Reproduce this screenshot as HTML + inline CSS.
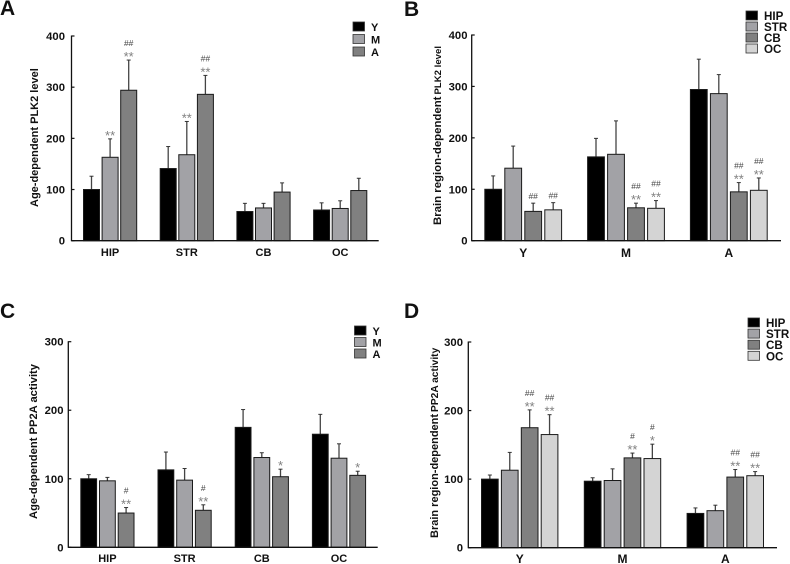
<!DOCTYPE html>
<html lang="en">
<head>
<meta charset="utf-8">
<title>PLK2 level and PP2A activity</title>
<style>
html,body{margin:0;padding:0;background:#fff;}
#figure{display:block;width:790px;height:564px;filter:blur(0.3px);}
text{font-family:"Liberation Sans",sans-serif;font-weight:bold;fill:#111;}
</style>
</head>
<body>
<svg id="figure" xmlns="http://www.w3.org/2000/svg" width="790" height="564" viewBox="0 0 790 564"></svg>
<script>
// Panel A: age-dependent PLK2, by brain region
const aCategories = ['HIP', 'STR', 'CB', 'OC'];
const aSeriesNames = ['Y', 'M', 'A'];
const aTicks = [0, 100, 200, 300, 400];
const aY = [100, 141, 57, 60];
const aM = [163, 168, 64, 63];
const aA = [294, 286, 95, 98];
const aYErr = [26, 43, 16, 14];
const aMErr = [36, 65, 9, 15];
const aAErr = [59, 37, 18, 24];
const aYStars = ['', '', '', ''];
const aMStars = ['**', '**', '', ''];
const aAStars = ['**', '**', '', ''];
const aYHash = ['', '', '', ''];
const aMHash = ['', '', '', ''];
const aAHash = ['##', '##', '', ''];

// Panel B: brain-region-dependent PLK2, by age
const bCategories = ['Y', 'M', 'A'];
const bSeriesNames = ['HIP', 'STR', 'CB', 'OC'];
const bTicks = [0, 100, 200, 300, 400];
const bHIP = [100, 163, 294];
const bSTR = [141, 168, 286];
const bCB = [57, 64, 95];
const bOC = [60, 63, 98];
const bHIPErr = [26, 36, 59];
const bSTRErr = [43, 65, 37];
const bCBErr = [16, 9, 18];
const bOCErr = [14, 15, 24];
const bHIPStars = ['', '', ''];
const bSTRStars = ['', '', ''];
const bCBStars = ['', '**', '**'];
const bOCStars = ['', '**', '**'];
const bHIPHash = ['', '', ''];
const bSTRHash = ['', '', ''];
const bCBHash = ['##', '##', '##'];
const bOCHash = ['##', '##', '##'];

// Panel C: age-dependent PP2A, by brain region
const cCategories = ['HIP', 'STR', 'CB', 'OC'];
const cSeriesNames = ['Y', 'M', 'A'];
const cTicks = [0, 100, 200, 300];
const cY = [100, 113, 175, 165];
const cM = [97, 98, 131, 130];
const cA = [50, 54, 103, 105];
const cYErr = [6, 26, 26, 29];
const cMErr = [5, 17, 7, 21];
const cAErr = [8, 8, 11, 6];
const cYStars = ['', '', '', ''];
const cMStars = ['', '', '', ''];
const cAStars = ['**', '**', '*', '*'];
const cYHash = ['', '', '', ''];
const cMHash = ['', '', '', ''];
const cAHash = ['#', '#', '', ''];

// Panel D: brain-region-dependent PP2A, by age
const dCategories = ['Y', 'M', 'A'];
const dSeriesNames = ['HIP', 'STR', 'CB', 'OC'];
const dTicks = [0, 100, 200, 300];
const dHIP = [100, 97, 50];
const dSTR = [113, 98, 54];
const dCB = [175, 131, 103];
const dOC = [165, 130, 105];
const dHIPErr = [6, 5, 8];
const dSTRErr = [26, 17, 8];
const dCBErr = [26, 7, 11];
const dOCErr = [29, 21, 6];
const dHIPStars = ['', '', ''];
const dSTRStars = ['', '', ''];
const dCBStars = ['**', '**', '**'];
const dOCStars = ['**', '*', '**'];
const dHIPHash = ['', '', ''];
const dSTRHash = ['', '', ''];
const dCBHash = ['##', '#', '##'];
const dOCHash = ['##', '#', '##'];

const svg = document.getElementById('figure');
const NS = 'http://www.w3.org/2000/svg';

function make(parent, tag, attrs, content) {
  const el = document.createElementNS(NS, tag);
  for (const k in attrs) el.setAttribute(k, attrs[k]);
  if (content !== undefined) el.textContent = content;
  parent.appendChild(el);
  return el;
}

function slug(s) {
  return String(s).toLowerCase();
}

function drawPanel(p) {
  const g = make(svg, 'g', {});
  
  

  const letter = make(g, 'text', {x: p.letterX, y: p.letterY, 'font-size': 21}, p.id.toUpperCase());
  
  

  const yMax = p.ticks[p.ticks.length - 1];
  const yScale = v => p.y0 - (v / yMax) * (p.y0 - p.yTop);
  const xScale = (c, s) => p.firstBar + c * p.groupStep + s * p.barStep;

  p.categories.forEach((cat, c) => {
    p.series.forEach((name, s) => {
      const value = p.values[s][c];
      const top = yScale(value);
      const errTop = yScale(value + p.errors[s][c]);
      const x = xScale(c, s);
      const mid = x + p.barWidth / 2;

      const stem = make(g, 'line', {x1: mid, x2: mid, y1: top, y2: errTop, stroke: '#444', 'stroke-width': 1.3});
      
      
      const cap = make(g, 'line', {x1: mid - 2, x2: mid + 2, y1: errTop, y2: errTop, stroke: '#333', 'stroke-width': 1});
      
      

      const bar = make(g, 'rect', {x: x, y: top, width: p.barWidth, height: p.y0 - top, fill: p.colors[s], stroke: '#1a1a1a', 'stroke-width': 1});
      
      

      const star = p.stars[s][c];
      const hash = p.hashes[s][c];
      if (star) {
        const st = make(g, 'text', {x: mid, y: errTop + 1, 'text-anchor': 'middle', 'font-size': 13, style: 'font-weight:normal;fill:#808080'}, star);
        
        
      }
      if (hash) {
        const hy = star ? errTop - 14 : errTop - 4;
        const ht = make(g, 'text', {x: mid, y: hy, 'text-anchor': 'middle', 'font-size': 8.5, style: 'font-weight:normal;fill:#444'}, hash);
        
        
      }
    });

    const groupMid = xScale(c, 0) + ((p.series.length - 1) * p.barStep + p.barWidth) / 2;
    const label = make(g, 'text', {x: groupMid, y: p.catY, 'text-anchor': 'middle', 'font-size': p.catSize}, cat);
    
    
  });

  const yAxis = make(g, 'line', {x1: p.x0, x2: p.x0, y1: p.yTop - 0.5, y2: p.y0 + 0.5, stroke: '#111', 'stroke-width': 1.3});
  
  
  const xAxis = make(g, 'line', {x1: p.x0, x2: p.xEnd, y1: p.y0, y2: p.y0, stroke: '#111', 'stroke-width': 1.3});
  
  

  p.ticks.forEach(t => {
    const ty = yScale(t);
    const tick = make(g, 'line', {x1: p.x0, x2: p.x0 + 3, y1: ty, y2: ty, stroke: '#111', 'stroke-width': 1.2});
    
    
    const tl = make(g, 'text', {x: p.tickLabelX, y: ty + 4, 'text-anchor': 'end', 'font-size': 11.3}, t);
    
    
  });

  const title = make(g, 'text', {transform: 'translate(' + p.titleX + ',' + p.titleY + ') rotate(-90)', 'text-anchor': 'start', 'font-size': p.titleSize});
  
  
  make(title, 'tspan', {}, p.title);
  if (p.titleSmall) make(title, 'tspan', {'font-size': p.titleSmallSize, dx: 2}, p.titleSmall);

  p.series.forEach((name, s) => {
    const ly = p.legendY + s * p.legendStep;
    const sw = make(g, 'rect', {x: p.legendX, y: ly, width: 11.5, height: 9, fill: p.colors[s], stroke: '#333', 'stroke-width': 0.8});
    
    
    const lt = make(g, 'text', {x: p.legendX + 18, y: ly + 9, 'font-size': p.legendSize}, name);
    
    
  });
}

const threeColors = ['#000000', '#a2a2a6', '#808080'];
const fourColors = ['#000000', '#a2a2a6', '#808080', '#d4d4d4'];

drawPanel({
  id: 'a', letterX: 0, letterY: 15,
  categories: aCategories, series: aSeriesNames, ticks: aTicks, colors: threeColors,
  values: [aY, aM, aA], errors: [aYErr, aMErr, aAErr],
  stars: [aYStars, aMStars, aAStars], hashes: [aYHash, aMHash, aAHash],
  x0: 71.5, xEnd: 378.7, y0: 240.7, yTop: 36,
  firstBar: 83.5, groupStep: 76.7, barStep: 18.6, barWidth: 16,
  catY: 256, catSize: 11, tickLabelX: 65,
  title: 'Age-dependent PLK2 level', titleSize: 11, titleX: 38, titleY: 207,
  legendX: 353, legendY: 22, legendStep: 12.5, legendSize: 11
});

drawPanel({
  id: 'b', letterX: 404, letterY: 16,
  categories: bCategories, series: bSeriesNames, ticks: bTicks, colors: fourColors,
  values: [bHIP, bSTR, bCB, bOC], errors: [bHIPErr, bSTRErr, bCBErr, bOCErr],
  stars: [bHIPStars, bSTRStars, bCBStars, bOCStars], hashes: [bHIPHash, bSTRHash, bCBHash, bOCHash],
  x0: 471.7, xEnd: 781, y0: 240.7, yTop: 35,
  firstBar: 484.8, groupStep: 102.8, barStep: 20, barWidth: 16.8,
  catY: 257, catSize: 12, tickLabelX: 467.5,
  title: 'Brain region-dependent', titleSize: 11.4, titleSmall: 'PLK2 level', titleSmallSize: 9.6, titleX: 441, titleY: 225,
  legendX: 746, legendY: 11, legendStep: 11, legendSize: 11.6
});

drawPanel({
  id: 'c', letterX: 0, letterY: 318,
  categories: cCategories, series: cSeriesNames, ticks: cTicks, colors: threeColors,
  values: [cY, cM, cA], errors: [cYErr, cMErr, cAErr],
  stars: [cYStars, cMStars, cAStars], hashes: [cYHash, cMHash, cAHash],
  x0: 68.3, xEnd: 377.7, y0: 547.3, yTop: 341.7,
  firstBar: 80.8, groupStep: 77.2, barStep: 18.7, barWidth: 15.8,
  catY: 562, catSize: 11, tickLabelX: 63.5,
  title: 'Age-dependent PP2A activity', titleSize: 11.2, titleX: 37, titleY: 519,
  legendX: 354.5, legendY: 326, legendStep: 11.5, legendSize: 11
});

drawPanel({
  id: 'd', letterX: 404, letterY: 318,
  categories: dCategories, series: dSeriesNames, ticks: dTicks, colors: fourColors,
  values: [dHIP, dSTR, dCB, dOC], errors: [dHIPErr, dSTRErr, dCBErr, dOCErr],
  stars: [dHIPStars, dSTRStars, dCBStars, dOCStars], hashes: [dHIPHash, dSTRHash, dCBHash, dOCHash],
  x0: 468.3, xEnd: 777, y0: 547.7, yTop: 342,
  firstBar: 481.5, groupStep: 102.8, barStep: 19.9, barWidth: 16.7,
  catY: 563, catSize: 12, tickLabelX: 463,
  title: 'Brain region-dependent', titleSize: 11, titleSmall: 'PP2A activity', titleSmallSize: 10.2, titleX: 438, titleY: 538,
  legendX: 748, legendY: 318, legendStep: 11.1, legendSize: 11.6
});
</script>
</body>
</html>
